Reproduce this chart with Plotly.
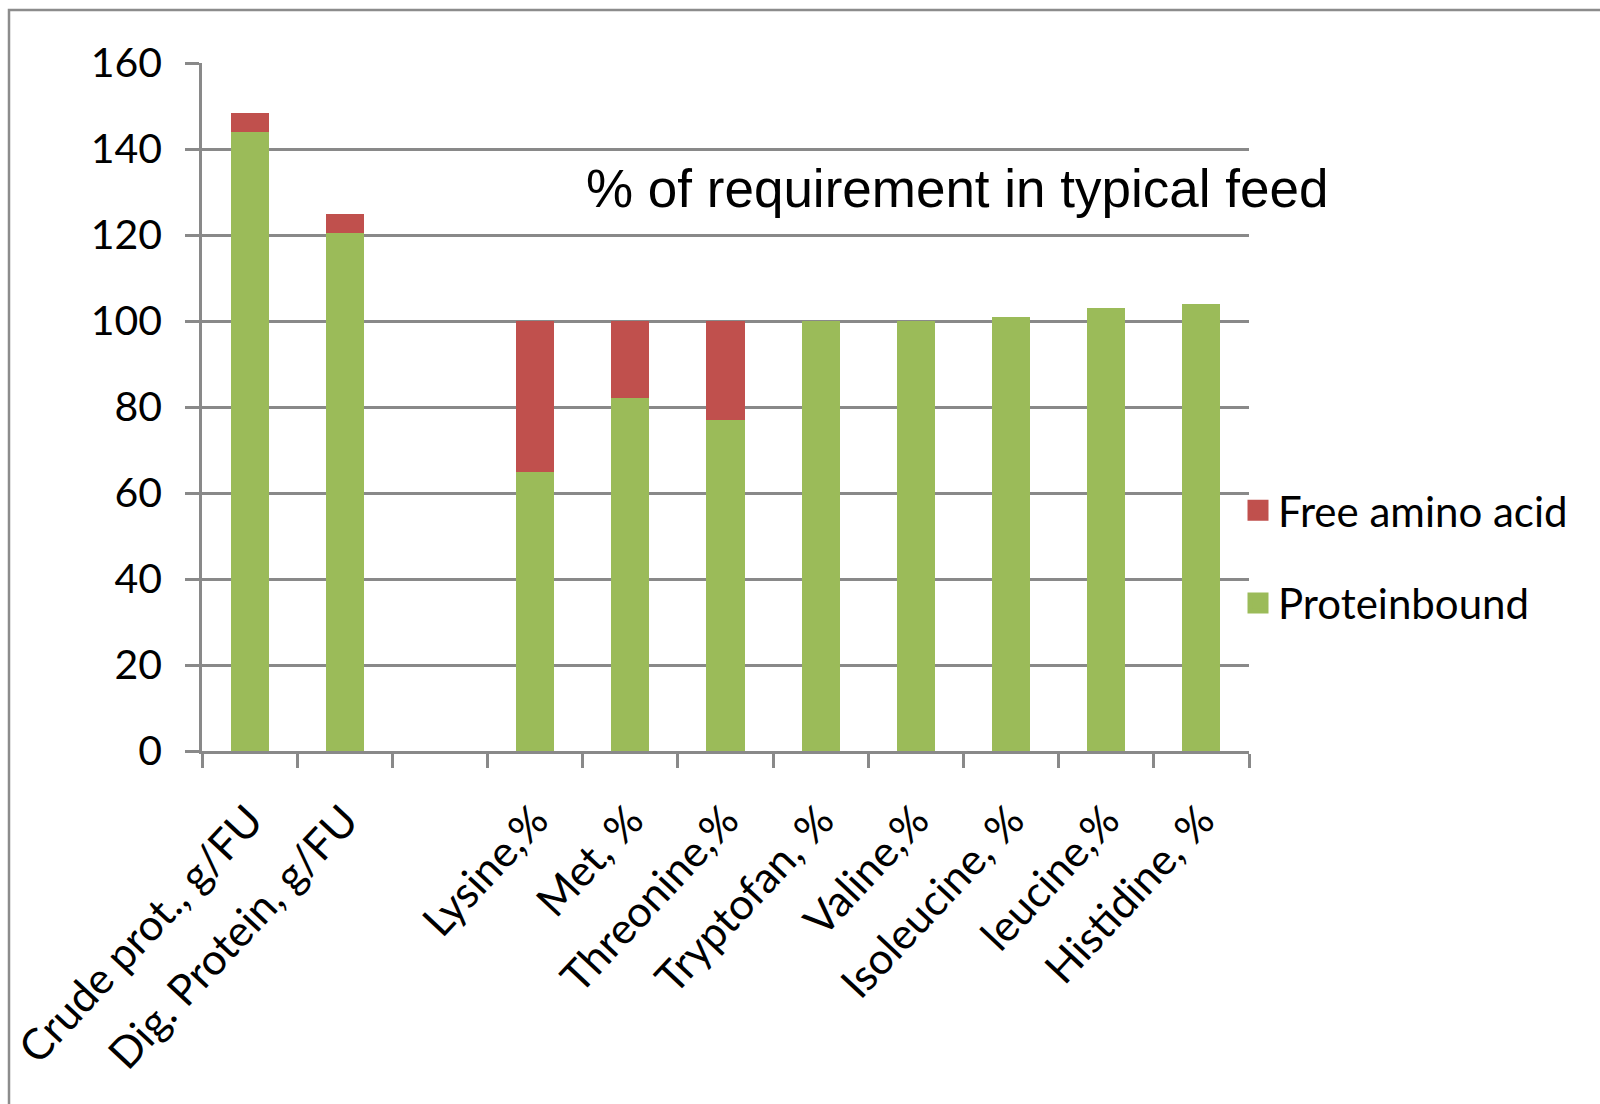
import plotly.graph_objects as go

# ---- data ----
categories = ["Crude prot., g/FU", "Dig. Protein, g/FU", " ", "Lysine,%", "Met, %",
              "Threonine,%", "Tryptofan, %", "Valine,%", "Isoleucine, %", "leucine,%",
              "Histidine, %"]
proteinbound = [144.0, 120.5, None, 65, 82, 77, 100, 100, 101, 103, 104]
free_amino_acid = [4.4, 4.4, None, 35, 18, 23, 0, 0, 0, 0, 0]
y_tick_values = [0, 20, 40, 60, 80, 100, 120, 140, 160]
series_names = ["Proteinbound", "Free amino acid"]
chart_title = "% of requirement in typical feed"

# ---- style ----
GREEN = "#9BBB59"
RED = "#C0504D"
GRID = "#898989"
W, H = 1600, 1104
PL, PR, PT, PB = 202, 1249, 63, 751   # plot area in pixels
FONT = "Lato, Liberation Sans, sans-serif"
TFONT = "Liberation Sans, Arial, sans-serif"


def px_x(p):
    return (p - PL) / (PR - PL)


def px_y(p):
    return (PB - p) / (PB - PT)


fig = go.Figure()
fig.add_trace(go.Bar(x=categories, y=proteinbound, name=series_names[0],
                     marker=dict(color=GREEN, line=dict(width=0)), showlegend=False))
fig.add_trace(go.Bar(x=categories, y=free_amino_acid, name=series_names[1],
                     marker=dict(color=RED, line=dict(width=0)), showlegend=False))

# legend entries (larger square symbols)
for name, col in [(series_names[1], RED), (series_names[0], GREEN)]:
    fig.add_trace(go.Scatter(x=[None], y=[None], mode="markers", name=name,
                             legendgroup=name,
                             marker=dict(symbol="square", size=16, color=col,
                                         line=dict(color=col, width=5))))

fig.update_layout(
    width=W, height=H,
    margin=dict(l=PL, r=W - PR, t=PT, b=H - PB, pad=0, autoexpand=False),
    paper_bgcolor="white", plot_bgcolor="white",
    barmode="stack", bargap=0.6,
    font=dict(family=FONT, size=40, color="black"),
    legend=dict(x=px_x(1238), y=px_y(557), xanchor="left", yanchor="middle",
                traceorder="grouped", tracegroupgap=35,
                font=dict(family=FONT, size=42, color="black"),
                bgcolor="rgba(0,0,0,0)", borderwidth=0),
    xaxis=dict(type="category", tickson="boundaries", ticks="outside", ticklen=14,
               tickwidth=2.5, tickcolor=GRID, showline=True, linecolor=GRID,
               linewidth=2.5, showgrid=False, tickangle=-47, automargin=False,
               ticklabelstandoff=24,
               tickfont=dict(family=FONT, size=43, color="black"),
               range=[-0.5, len(categories) - 0.5]),
    yaxis=dict(range=[0, 160], tickvals=y_tick_values, ticks="outside", ticklen=14,
               tickwidth=2.5, tickcolor=GRID, showline=True, linecolor=GRID,
               linewidth=2.5, showgrid=True, gridcolor=GRID, gridwidth=2.5,
               zeroline=False, ticklabelstandoff=15, automargin=False,
               tickfont=dict(family=FONT, size=41, color="black")),
    annotations=[dict(text=chart_title, xref="paper", yref="paper",
                      x=px_x(584), y=px_y(188), xanchor="left", yanchor="middle",
                      showarrow=False,
                      font=dict(family=TFONT, size=53, color="black"))],
    shapes=[dict(type="rect", xref="paper", yref="paper",
                 x0=px_x(9), x1=px_x(1800), y0=px_y(10), y1=px_y(1300),
                 line=dict(color="#8C8C8C", width=2.5), fillcolor="rgba(0,0,0,0)",
                 layer="below")],
)

fig.write_html("out.html")
